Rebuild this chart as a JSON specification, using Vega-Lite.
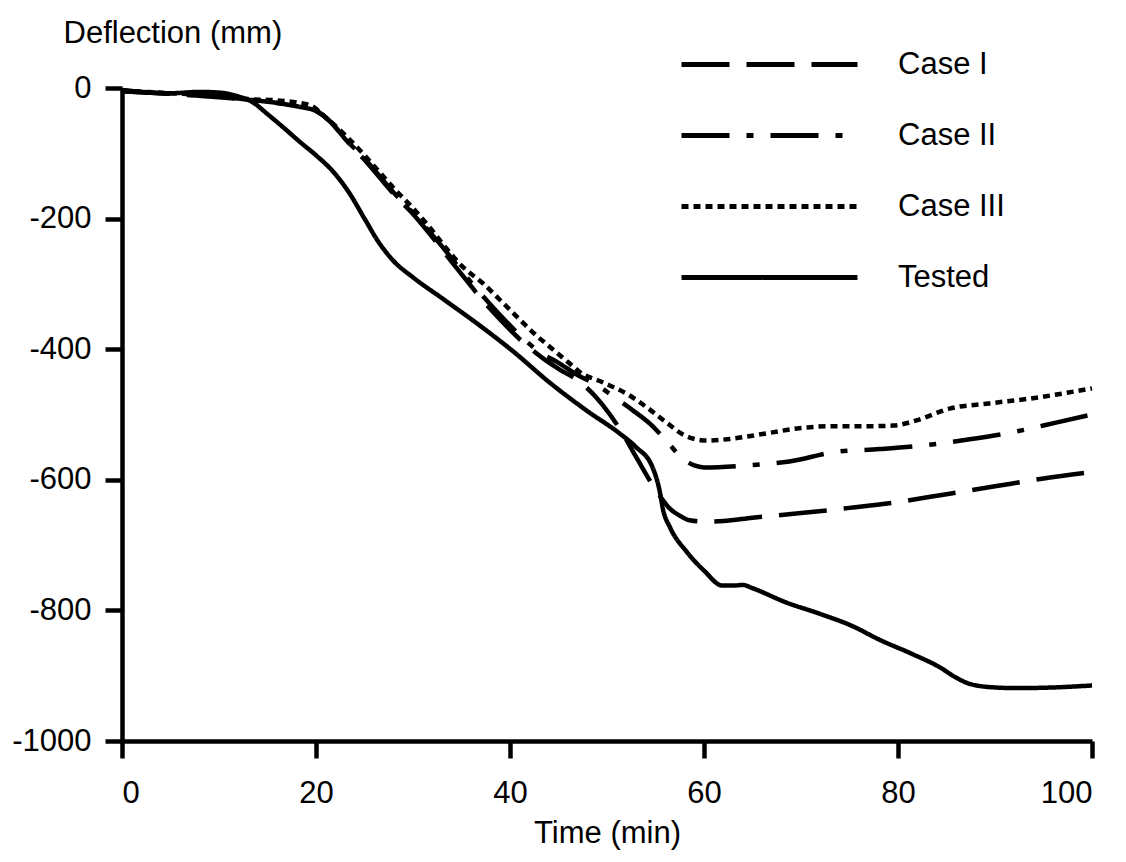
{
  "$schema": "https://vega.github.io/schema/vega-lite/v6.json",
  "width": 970,
  "height": 653,
  "autosize": {"type": "none"},
  "padding": {"left": 122, "top": 88, "right": 34, "bottom": 121},
  "background": "white",
  "config": {
    "view": {"stroke": null},
    "font": "Liberation Sans",
    "axis": {"grid": false, "domainColor": "black", "domainWidth": 4.5, "tickColor": "black", "tickWidth": 4.5, "tickSize": 17, "labelFont": "Liberation Sans", "labelFontSize": 31, "labelColor": "black", "titleFont": "Liberation Sans", "titleFontSize": 31, "titleFontWeight": "normal", "titleColor": "black"}
  },
  "data": {
    "values": [
      {"t": 0, "d": -5, "s": "Case I"}, {"t": 5, "d": -9, "s": "Case I"}, {"t": 10, "d": -14, "s": "Case I"}, {"t": 13, "d": -18, "s": "Case I"}, {"t": 16, "d": -23, "s": "Case I"}, {"t": 18, "d": -28, "s": "Case I"}, {"t": 20, "d": -35, "s": "Case I"}, {"t": 21.5, "d": -52, "s": "Case I"}, {"t": 23, "d": -78, "s": "Case I"}, {"t": 25, "d": -110, "s": "Case I"}, {"t": 26.5, "d": -136, "s": "Case I"}, {"t": 28.3, "d": -167, "s": "Case I"}, {"t": 30, "d": -193, "s": "Case I"}, {"t": 31.7, "d": -223, "s": "Case I"}, {"t": 33.4, "d": -255, "s": "Case I"}, {"t": 35, "d": -285, "s": "Case I"}, {"t": 37, "d": -322, "s": "Case I"}, {"t": 39, "d": -355, "s": "Case I"}, {"t": 41.7, "d": -394, "s": "Case I"}, {"t": 43.4, "d": -414, "s": "Case I"}, {"t": 45, "d": -430, "s": "Case I"}, {"t": 47.2, "d": -450, "s": "Case I"}, {"t": 48.9, "d": -474, "s": "Case I"}, {"t": 50.3, "d": -500, "s": "Case I"}, {"t": 51.6, "d": -529, "s": "Case I"}, {"t": 53, "d": -565, "s": "Case I"}, {"t": 55, "d": -615, "s": "Case I"}, {"t": 55.8, "d": -632, "s": "Case I"}, {"t": 56.4, "d": -643, "s": "Case I"}, {"t": 57.5, "d": -655, "s": "Case I"}, {"t": 58.5, "d": -662, "s": "Case I"}, {"t": 60, "d": -664, "s": "Case I"}, {"t": 62, "d": -663, "s": "Case I"}, {"t": 65, "d": -658, "s": "Case I"}, {"t": 70, "d": -651, "s": "Case I"}, {"t": 75, "d": -643, "s": "Case I"}, {"t": 80, "d": -634, "s": "Case I"}, {"t": 85, "d": -622, "s": "Case I"}, {"t": 90, "d": -610, "s": "Case I"}, {"t": 95, "d": -598, "s": "Case I"}, {"t": 100, "d": -588, "s": "Case I"},
      {"t": 0, "d": -5, "s": "Case II"}, {"t": 5, "d": -9, "s": "Case II"}, {"t": 10, "d": -13, "s": "Case II"}, {"t": 13, "d": -18, "s": "Case II"}, {"t": 16, "d": -23, "s": "Case II"}, {"t": 18, "d": -28, "s": "Case II"}, {"t": 20, "d": -35, "s": "Case II"}, {"t": 21.5, "d": -52, "s": "Case II"}, {"t": 23, "d": -78, "s": "Case II"}, {"t": 25, "d": -108, "s": "Case II"}, {"t": 26.5, "d": -134, "s": "Case II"}, {"t": 28.3, "d": -165, "s": "Case II"}, {"t": 30, "d": -191, "s": "Case II"}, {"t": 31.7, "d": -220, "s": "Case II"}, {"t": 33.4, "d": -250, "s": "Case II"}, {"t": 35, "d": -280, "s": "Case II"}, {"t": 37, "d": -315, "s": "Case II"}, {"t": 39, "d": -348, "s": "Case II"}, {"t": 41.7, "d": -388, "s": "Case II"}, {"t": 43.4, "d": -408, "s": "Case II"}, {"t": 44.8, "d": -419, "s": "Case II"}, {"t": 47, "d": -440, "s": "Case II"}, {"t": 49, "d": -455, "s": "Case II"}, {"t": 50.8, "d": -474, "s": "Case II"}, {"t": 52.7, "d": -494, "s": "Case II"}, {"t": 54.5, "d": -515, "s": "Case II"}, {"t": 56.1, "d": -540, "s": "Case II"}, {"t": 57.7, "d": -566, "s": "Case II"}, {"t": 59, "d": -578, "s": "Case II"}, {"t": 60, "d": -581, "s": "Case II"}, {"t": 64.4, "d": -578, "s": "Case II"}, {"t": 68.8, "d": -572, "s": "Case II"}, {"t": 73.7, "d": -557, "s": "Case II"}, {"t": 78.1, "d": -553, "s": "Case II"}, {"t": 82.9, "d": -547, "s": "Case II"}, {"t": 87.4, "d": -538, "s": "Case II"}, {"t": 92.2, "d": -526, "s": "Case II"}, {"t": 96.4, "d": -512, "s": "Case II"}, {"t": 100, "d": -500, "s": "Case II"},
      {"t": 0, "d": -4, "s": "Case III"}, {"t": 5, "d": -8, "s": "Case III"}, {"t": 10, "d": -12, "s": "Case III"}, {"t": 13, "d": -17, "s": "Case III"}, {"t": 16, "d": -19, "s": "Case III"}, {"t": 18, "d": -22, "s": "Case III"}, {"t": 19.5, "d": -27, "s": "Case III"}, {"t": 21, "d": -45, "s": "Case III"}, {"t": 23, "d": -72, "s": "Case III"}, {"t": 25, "d": -103, "s": "Case III"}, {"t": 26.5, "d": -128, "s": "Case III"}, {"t": 28.3, "d": -158, "s": "Case III"}, {"t": 30, "d": -184, "s": "Case III"}, {"t": 31.7, "d": -213, "s": "Case III"}, {"t": 33.4, "d": -245, "s": "Case III"}, {"t": 35, "d": -272, "s": "Case III"}, {"t": 37.2, "d": -299, "s": "Case III"}, {"t": 39, "d": -325, "s": "Case III"}, {"t": 40.7, "d": -350, "s": "Case III"}, {"t": 42.5, "d": -376, "s": "Case III"}, {"t": 44.4, "d": -400, "s": "Case III"}, {"t": 46, "d": -420, "s": "Case III"}, {"t": 47.2, "d": -435, "s": "Case III"}, {"t": 49.6, "d": -451, "s": "Case III"}, {"t": 52, "d": -468, "s": "Case III"}, {"t": 54.1, "d": -489, "s": "Case III"}, {"t": 56.1, "d": -512, "s": "Case III"}, {"t": 58, "d": -532, "s": "Case III"}, {"t": 60.3, "d": -540, "s": "Case III"}, {"t": 62.9, "d": -537, "s": "Case III"}, {"t": 66.4, "d": -529, "s": "Case III"}, {"t": 69.8, "d": -521, "s": "Case III"}, {"t": 73.2, "d": -518, "s": "Case III"}, {"t": 76.7, "d": -518, "s": "Case III"}, {"t": 79.5, "d": -517, "s": "Case III"}, {"t": 81.9, "d": -509, "s": "Case III"}, {"t": 85.3, "d": -491, "s": "Case III"}, {"t": 89.4, "d": -483, "s": "Case III"}, {"t": 93.9, "d": -475, "s": "Case III"}, {"t": 100, "d": -460, "s": "Case III"},
      {"t": 0, "d": -3, "s": "Tested"}, {"t": 5, "d": -8, "s": "Tested"}, {"t": 8, "d": -6, "s": "Tested"}, {"t": 10, "d": -7, "s": "Tested"}, {"t": 12, "d": -13, "s": "Tested"}, {"t": 13.5, "d": -22, "s": "Tested"}, {"t": 15, "d": -40, "s": "Tested"}, {"t": 16.6, "d": -60, "s": "Tested"}, {"t": 18.3, "d": -82, "s": "Tested"}, {"t": 20, "d": -103, "s": "Tested"}, {"t": 21.7, "d": -127, "s": "Tested"}, {"t": 23.4, "d": -160, "s": "Tested"}, {"t": 25, "d": -200, "s": "Tested"}, {"t": 26.5, "d": -237, "s": "Tested"}, {"t": 28, "d": -265, "s": "Tested"}, {"t": 30, "d": -290, "s": "Tested"}, {"t": 33, "d": -322, "s": "Tested"}, {"t": 37, "d": -365, "s": "Tested"}, {"t": 40.3, "d": -403, "s": "Tested"}, {"t": 44, "d": -450, "s": "Tested"}, {"t": 47.9, "d": -494, "s": "Tested"}, {"t": 51.3, "d": -529, "s": "Tested"}, {"t": 53, "d": -550, "s": "Tested"}, {"t": 54.7, "d": -581, "s": "Tested"}, {"t": 55.4, "d": -615, "s": "Tested"}, {"t": 55.8, "d": -647, "s": "Tested"}, {"t": 56.5, "d": -673, "s": "Tested"}, {"t": 58.2, "d": -710, "s": "Tested"}, {"t": 60, "d": -739, "s": "Tested"}, {"t": 61.9, "d": -762, "s": "Tested"}, {"t": 63, "d": -762, "s": "Tested"}, {"t": 64, "d": -761, "s": "Tested"}, {"t": 65, "d": -766, "s": "Tested"}, {"t": 68.5, "d": -788, "s": "Tested"}, {"t": 71.9, "d": -805, "s": "Tested"}, {"t": 75.3, "d": -824, "s": "Tested"}, {"t": 78.1, "d": -845, "s": "Tested"}, {"t": 81.5, "d": -867, "s": "Tested"}, {"t": 84.3, "d": -887, "s": "Tested"}, {"t": 86, "d": -903, "s": "Tested"}, {"t": 87.5, "d": -913, "s": "Tested"}, {"t": 90, "d": -918, "s": "Tested"}, {"t": 92.2, "d": -919, "s": "Tested"}, {"t": 96, "d": -918, "s": "Tested"}, {"t": 100, "d": -915, "s": "Tested"}
    ]
  },
  "mark": {"type": "line", "interpolate": "monotone", "color": "black", "strokeWidth": 4.5, "strokeCap": "butt", "clip": false},
  "encoding": {
    "x": {"field": "t", "type": "quantitative", "scale": {"domain": [0, 100], "nice": false, "zero": false}, "axis": {"values": [0, 20, 40, 60, 80, 100], "format": "d", "title": "Time (min)", "labelPadding": 20, "titlePadding": 10}},
    "y": {"field": "d", "type": "quantitative", "scale": {"domain": [-1000, 0], "nice": false}, "axis": {"values": [-1000, -800, -600, -400, -200, 0], "labelExpr": "datum.value == 0 ? '0' : '-' + abs(datum.value)", "title": "Deflection (mm)", "titleAngle": 0, "titleAlign": "left", "titleBaseline": "middle", "titleX": -59, "titleY": -55, "labelPadding": 14}},
    "strokeDash": {"field": "s", "type": "nominal", "scale": {"domain": ["Case I", "Case II", "Case III", "Tested"], "range": [[48, 17], [48, 17, 7, 17], [7, 5], [1, 0]]},
      "legend": {"title": null, "orient": "none", "legendX": 627, "legendY": -44, "padding": 0, "symbolType": "M-5,0H5", "symbolSize": 1239, "symbolStrokeWidth": 5, "symbolStrokeColor": "black", "symbolFillColor": "transparent", "labelFont": "Liberation Sans", "labelFontSize": 31, "labelColor": "black", "labelOffset": 108, "rowPadding": 35, "labelLimit": 300}}
  }
}
